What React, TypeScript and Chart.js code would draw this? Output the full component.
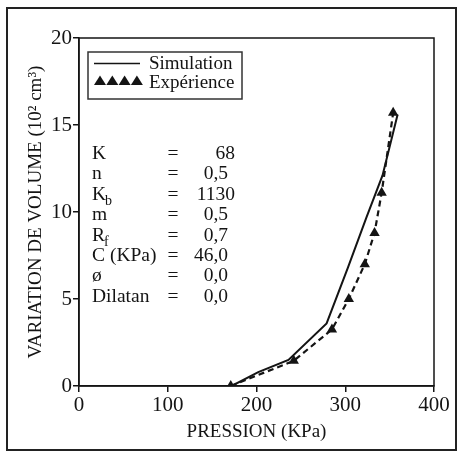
import React, { useEffect, useRef } from "react";
import { Chart, registerables } from "chart.js";
Chart.register(...registerables);

// ---- data ----
const simPressure = [172, 202, 236, 279, 303, 324, 342, 359];
const simVolume = [0, 0.8, 1.5, 3.6, 6.8, 9.7, 12.1, 15.6];
const expPressure = [171, 242, 285, 304, 322, 333, 341, 354];
const expVolume = [0, 1.45, 3.25, 5.0, 7.0, 8.8, 11.1, 15.7];
const xTickValues = [0, 100, 200, 300, 400];
const yTickValues = [0, 5, 10, 15, 20];
const seriesLabels = ["Simulation", "Expérience"];
const paramNames = ["K", "n", "K", "m", "R", "C (KPa)", "ø", "Dilatan"];
const paramSubs = ["", "", "b", "", "f", "", "", ""];
const paramValues = ["68", "0,5", "1130", "0,5", "0,7", "46,0", "0,0", "0,0"];
const xTitle = "PRESSION (KPa)";
const yTitle = "VARIATION DE VOLUME (10² cm³)";

const FONT = "'Liberation Serif', 'DejaVu Serif', serif";
const INK = "#141414";

const decorPlugin = {
  id: "decor",
  beforeDraw(chart: any) {
    const ctx = chart.ctx;
    ctx.save();
    ctx.fillStyle = "#fff";
    ctx.fillRect(0, 0, chart.width, chart.height);
    ctx.strokeStyle = "#222";
    ctx.lineWidth = 2;
    ctx.strokeRect(7, 8, 449, 442);
    ctx.restore();
  },
  afterDraw(chart: any) {
    const ctx = chart.ctx;
    const a = chart.chartArea;
    ctx.save();
    // plot frame
    ctx.strokeStyle = INK;
    ctx.lineWidth = 1.5;
    ctx.strokeRect(a.left, a.top, a.right - a.left, a.bottom - a.top);

    // legend box
    const lx = a.left + 9;
    const ly = a.top + 14;
    ctx.strokeStyle = "#333";
    ctx.lineWidth = 1.5;
    ctx.strokeRect(lx, ly, 154, 47);
    ctx.strokeStyle = INK;
    ctx.beginPath();
    ctx.moveTo(lx + 6, ly + 11.5);
    ctx.lineTo(lx + 52, ly + 11.5);
    ctx.stroke();
    ctx.fillStyle = INK;
    for (let i = 0; i < 4; i++) {
      const cx = lx + 12 + i * 12.3;
      const cy = ly + 29;
      ctx.beginPath();
      ctx.moveTo(cx, cy - 5.5);
      ctx.lineTo(cx + 6, cy + 4);
      ctx.lineTo(cx - 6, cy + 4);
      ctx.closePath();
      ctx.fill();
    }
    ctx.font = `19px ${FONT}`;
    ctx.textBaseline = "middle";
    ctx.textAlign = "left";
    ctx.fillText(seriesLabels[0], lx + 61, ly + 12);
    ctx.fillText(seriesLabels[1], lx + 61, ly + 31);

    // parameter table
    ctx.textBaseline = "alphabetic";
    for (let i = 0; i < paramNames.length; i++) {
      const y = a.top + 121 + i * 20.4;
      ctx.font = `19.5px ${FONT}`;
      ctx.textAlign = "left";
      ctx.fillText(paramNames[i], a.left + 13, y);
      if (paramSubs[i]) {
        const w = ctx.measureText(paramNames[i]).width;
        ctx.font = `14px ${FONT}`;
        ctx.fillText(paramSubs[i], a.left + 13 + w - 1, y + 5);
        ctx.font = `19.5px ${FONT}`;
      }
      ctx.textAlign = "center";
      ctx.fillText("=", a.left + 94, y);
      ctx.textAlign = "right";
      const v = paramValues[i];
      ctx.fillText(v, v.includes(",") ? a.left + 149 : a.left + 156, y);
    }
    ctx.restore();
  },
};

export default function App() {
  const ref = useRef<HTMLCanvasElement | null>(null);
  useEffect(() => {
    if (!ref.current) return;
    const chart = new Chart(ref.current, {
      type: "scatter",
      data: {
        datasets: [
          {
            label: seriesLabels[0],
            data: simPressure.map((x, i) => ({ x, y: simVolume[i] })),
            showLine: true,
            borderColor: INK,
            borderWidth: 2,
            pointRadius: 0,
            tension: 0,
          },
          {
            label: seriesLabels[1],
            data: expPressure.map((x, i) => ({ x, y: expVolume[i] })),
            showLine: true,
            borderColor: INK,
            borderWidth: 2.2,
            borderDash: [6, 4],
            pointStyle: "triangle",
            pointRadius: 6,
            pointBackgroundColor: INK,
            pointBorderColor: INK,
            pointBorderWidth: 0,
            tension: 0,
          },
        ],
      },
      options: {
        responsive: false,
        animation: false,
        layout: { padding: { left: 0, top: 38, right: 23, bottom: 0 } },
        plugins: { legend: { display: false }, tooltip: { enabled: false } },
        scales: {
          x: {
            type: "linear",
            min: 0,
            max: 400,
            afterBuildTicks: (s: any) => {
              s.ticks = xTickValues.map((v) => ({ value: v }));
            },
            afterFit: (s: any) => {
              s.height = 66;
            },
            ticks: {
              color: INK,
              font: { family: FONT, size: 21 },
              padding: 1,
              maxRotation: 0,
            },
            grid: { drawOnChartArea: false, drawTicks: true, tickLength: 6, color: INK, lineWidth: 1.5 },
            border: { display: true, color: INK, width: 1.5 },
            title: {
              display: true,
              text: xTitle,
              color: INK,
              font: { family: FONT, size: 19 },
              padding: { top: 0, bottom: 9 },
            },
          },
          y: {
            type: "linear",
            min: 0,
            max: 20,
            afterBuildTicks: (s: any) => {
              s.ticks = yTickValues.map((v) => ({ value: v }));
            },
            afterFit: (s: any) => {
              s.width = 79;
            },
            ticks: {
              color: INK,
              font: { family: FONT, size: 21 },
              padding: 1,
            },
            grid: { drawOnChartArea: false, drawTicks: true, tickLength: 6, color: INK, lineWidth: 1.5 },
            border: { display: true, color: INK, width: 1.5 },
            title: {
              display: true,
              text: yTitle,
              color: INK,
              font: { family: FONT, size: 19 },
              padding: { top: 25, bottom: 0 },
            },
          },
        },
      },
      plugins: [decorPlugin],
    });
    return () => chart.destroy();
  }, []);
  return (
    <div style={{ position: "fixed", left: 0, top: 0, width: 457, height: 452 }}>
      <canvas ref={ref} width={457} height={452} style={{ width: 457, height: 452, display: "block" }} />
    </div>
  );
}
